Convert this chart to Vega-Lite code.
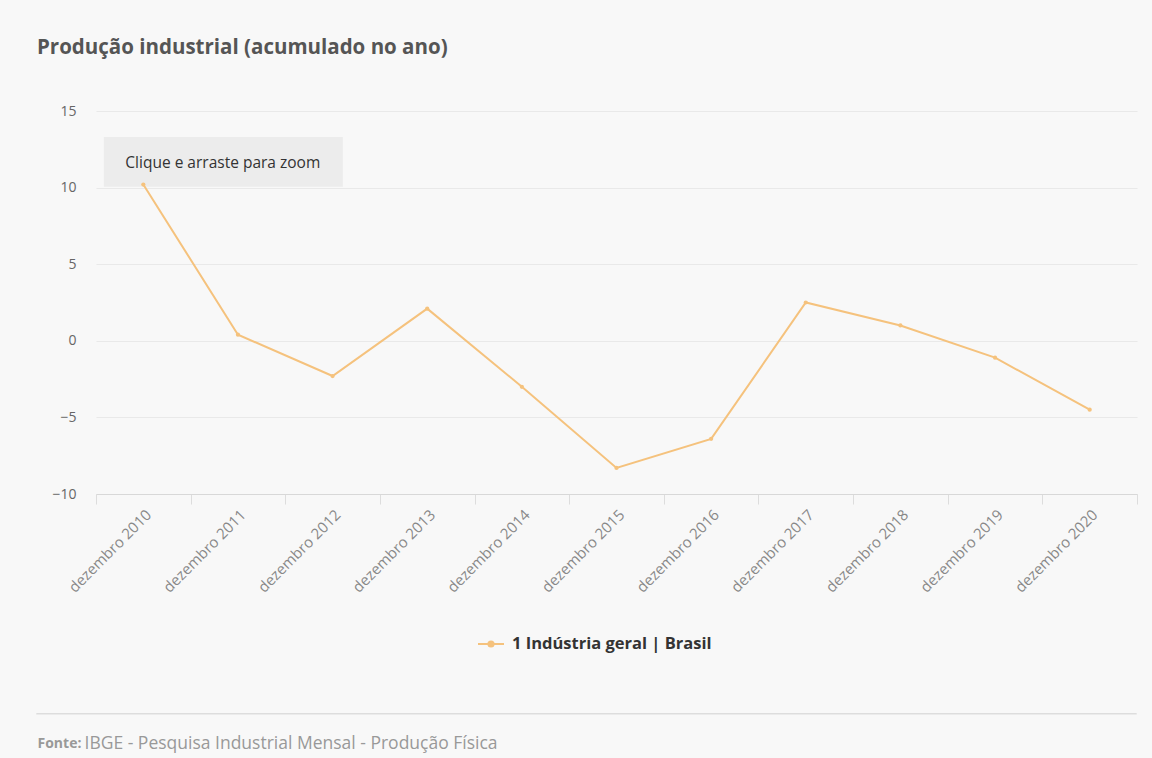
{
  "$schema": "https://vega.github.io/schema/vega-lite/v6.json",
  "width": 1041,
  "height": 383,
  "autosize": {"type": "none"},
  "padding": {"left": 96, "top": 111, "right": 15, "bottom": 264},
  "background": "#f8f8f8",
  "title": {
    "text": "Produção industrial (acumulado no ano)",
    "anchor": "start",
    "frame": "group",
    "dx": -59,
    "offset": 46,
    "font": "Open Sans",
    "fontSize": 20.5,
    "fontWeight": "bold",
    "color": "#555555"
  },
  "config": {
    "view": {"stroke": null},
    "font": "Open Sans"
  },
  "data": {
    "values": [
      {"periodo": "dezembro 2010", "valor": 10.2, "serie": "1 Indústria geral | Brasil"},
      {"periodo": "dezembro 2011", "valor": 0.4, "serie": "1 Indústria geral | Brasil"},
      {"periodo": "dezembro 2012", "valor": -2.3, "serie": "1 Indústria geral | Brasil"},
      {"periodo": "dezembro 2013", "valor": 2.1, "serie": "1 Indústria geral | Brasil"},
      {"periodo": "dezembro 2014", "valor": -3.0, "serie": "1 Indústria geral | Brasil"},
      {"periodo": "dezembro 2015", "valor": -8.3, "serie": "1 Indústria geral | Brasil"},
      {"periodo": "dezembro 2016", "valor": -6.4, "serie": "1 Indústria geral | Brasil"},
      {"periodo": "dezembro 2017", "valor": 2.5, "serie": "1 Indústria geral | Brasil"},
      {"periodo": "dezembro 2018", "valor": 1.0, "serie": "1 Indústria geral | Brasil"},
      {"periodo": "dezembro 2019", "valor": -1.1, "serie": "1 Indústria geral | Brasil"},
      {"periodo": "dezembro 2020", "valor": -4.5, "serie": "1 Indústria geral | Brasil"}
    ]
  },
  "encoding": {
    "x": {
      "field": "periodo",
      "type": "nominal",
      "sort": null,
      "scale": {
        "type": "band",
        "paddingInner": 0,
        "paddingOuter": 0,
        "domain": ["dezembro 2010", "dezembro 2011", "dezembro 2012", "dezembro 2013", "dezembro 2014", "dezembro 2015", "dezembro 2016", "dezembro 2017", "dezembro 2018", "dezembro 2019", "dezembro 2020"]
      },
      "axis": {
        "title": "IBGE - Pesquisa Industrial Mensal - Produção Física",
        "titleFont": "Open Sans",
        "titleFontSize": 17.5,
        "titleFontWeight": "normal",
        "titleColor": "#999999",
        "titleAlign": "left",
        "titleAnchor": null,
        "titleBaseline": "middle",
        "titleX": -12,
        "titleY": 249,
        "labelAngle": -45,
        "labelAlign": "right",
        "labelBaseline": "top",
        "labelFontSize": 15,
        "labelColor": "#888888",
        "labelPadding": 3,
        "tickBand": "extent",
        "tickSize": 10,
        "tickColor": "#dddddd",
        "domainColor": "#d8d8d8",
        "grid": false
      }
    },
    "y": {
      "field": "valor",
      "type": "quantitative",
      "scale": {"domain": [-10, 15], "nice": false, "zero": false},
      "axis": {
        "values": [-10, -5, 0, 5, 10, 15],
        "title": "Fonte:",
        "titleFont": "Open Sans",
        "titleFontSize": 14,
        "titleFontWeight": "bold",
        "titleColor": "#999999",
        "titleAngle": 0,
        "titleAlign": "left",
        "titleAnchor": null,
        "titleBaseline": "middle",
        "titleX": -59,
        "titleY": 632,
        "domain": false,
        "ticks": false,
        "labelPadding": 20,
        "labelFontSize": 14,
        "labelColor": "#666666",
        "gridColor": "#e9e9e9"
      }
    }
  },
  "layer": [
    {
      "transform": [{"filter": "datum.periodo === 'dezembro 2010'"}],
      "mark": {"type": "rule", "color": "#dddddd", "strokeWidth": 1.5, "clip": false, "xOffset": -107, "x2Offset": 47},
      "encoding": {
        "x": {"datum": "dezembro 2010"},
        "x2": {"datum": "dezembro 2020"},
        "y": {"datum": -24.35}
      }
    },
    {
      "transform": [{"filter": "datum.periodo === 'dezembro 2010'"}],
      "mark": {"type": "rect", "color": "#ececec", "width": 239, "xOffset": 80},
      "encoding": {
        "y": {"datum": 13.3},
        "y2": {"datum": 10.05}
      }
    },
    {
      "transform": [{"filter": "datum.periodo === 'dezembro 2010'"}],
      "mark": {"type": "text", "align": "left", "baseline": "middle", "dx": -18, "fontSize": 15.5, "color": "#333333"},
      "encoding": {
        "y": {"datum": 11.6},
        "text": {"value": "Clique e arraste para zoom"}
      }
    },
    {
      "mark": {"type": "line", "strokeWidth": 2, "point": {"size": 18, "filled": true}},
      "encoding": {
        "color": {
          "field": "serie",
          "type": "nominal",
          "scale": {"range": ["#f5c27d"]},
          "legend": {
            "title": null,
            "orient": "none",
            "legendX": 381,
            "legendY": 519,
            "symbolType": "M-1,0H1M-0.2,0A0.2,0.2 0 1,1 0.2,0A0.2,0.2 0 1,1 -0.2,0Z",
            "symbolSize": 676,
            "symbolStrokeWidth": 2,
            "symbolFillColor": "#f5c27d",
            "labelFont": "Open Sans",
            "labelFontSize": 16.5,
            "labelFontWeight": "bold",
            "labelColor": "#333333",
            "labelOffset": 7,
            "labelLimit": 400
          }
        }
      }
    }
  ]
}
